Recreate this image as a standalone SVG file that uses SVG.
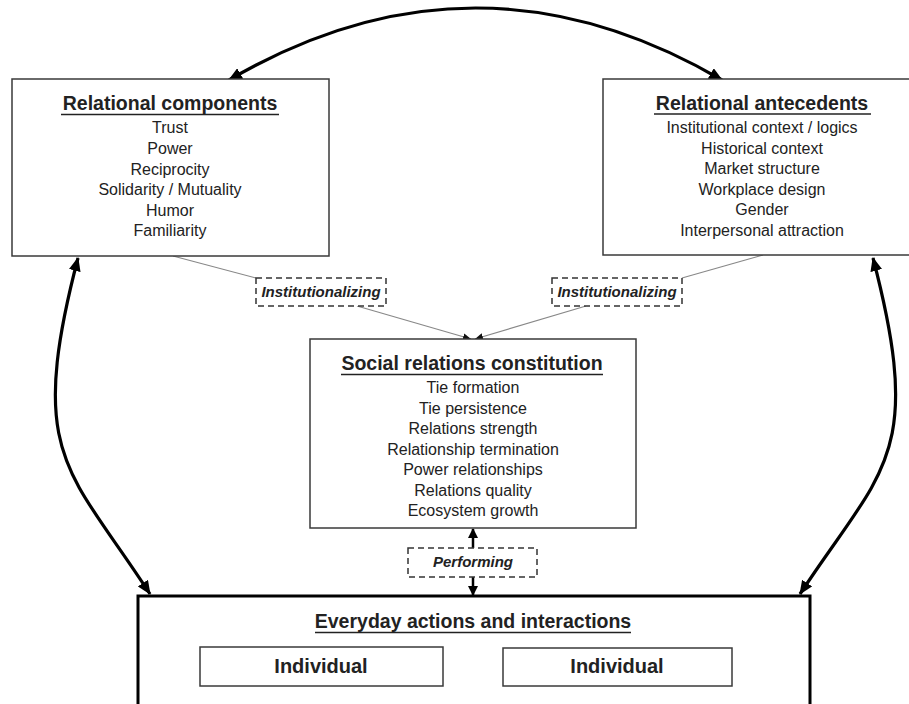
<svg xmlns="http://www.w3.org/2000/svg" width="909" height="704" viewBox="0 0 909 704">
<style>
text{font-family:"Liberation Sans",Arial,sans-serif;fill:#222;text-anchor:middle}
.t{font-size:19.5px;font-weight:bold}
.i{font-size:16px}
.lab{font-size:15px;font-weight:bold;font-style:italic}
.ind{font-size:20px;font-weight:bold}
.box{fill:#fff;stroke:#3a3a3a;stroke-width:1.5}
.dash{fill:#fff;stroke:#333;stroke-width:1.5;stroke-dasharray:6 4}
.ul{stroke:#222;stroke-width:1.3}
.big{fill:none;stroke:#000;stroke-width:3.2;marker-start:url(#ah);marker-end:url(#ah)}
.thin{fill:none;stroke:#888;stroke-width:1.2}
</style>
<defs>
<marker id="ah" markerUnits="userSpaceOnUse" markerWidth="14" markerHeight="12" refX="13" refY="6" orient="auto-start-reverse"><path d="M0,0 L14,6 L0,12 z" fill="#000"/></marker>
<marker id="sa" markerUnits="userSpaceOnUse" markerWidth="8" markerHeight="7" refX="8" refY="3.5" orient="auto-start-reverse"><path d="M0,0 L8,3.5 L0,7 z" fill="#111"/></marker>
<marker id="ma" markerUnits="userSpaceOnUse" markerWidth="10" markerHeight="10" refX="9" refY="5" orient="auto"><path d="M0,0 L10,5 L0,10 z" fill="#000"/></marker>
</defs>

<g id="connectors">
<path class="big" d="M229,80 Q475.5,-64 722,80"/>
<path class="big" d="M78,258 C26,457 69,469 150,594"/>
<path class="big" d="M873,258 C925,457 882,469 800,594"/>
<line class="thin" x1="173" y1="256" x2="256" y2="278"/>
<line class="thin" x1="763" y1="255" x2="682" y2="278"/>
<line class="thin" x1="357" y1="306" x2="471" y2="339" marker-end="url(#sa)"/>
<line class="thin" x1="586" y1="306" x2="475" y2="339" marker-end="url(#sa)"/>
<line x1="473" y1="548" x2="473" y2="529" stroke="#000" stroke-width="2.5" marker-end="url(#ma)"/>
<line x1="473" y1="577" x2="473" y2="595" stroke="#000" stroke-width="2.5" marker-end="url(#ma)"/>
<line class="thin" x1="444" y1="667" x2="502" y2="667" marker-start="url(#sa)" marker-end="url(#sa)"/>
</g>

<g id="relational-components">
<rect class="box" x="12" y="79" width="317" height="177"/>
<text class="t" x="170" y="110">Relational components</text>
<line class="ul" x1="61" y1="114.5" x2="279" y2="114.5"/>
<text class="i" x="170" y="133">Trust</text>
<text class="i" x="170" y="154">Power</text>
<text class="i" x="170" y="174.5">Reciprocity</text>
<text class="i" x="170" y="195">Solidarity / Mutuality</text>
<text class="i" x="170" y="215.5">Humor</text>
<text class="i" x="170" y="236">Familiarity</text>
</g>

<g id="relational-antecedents">
<rect class="box" x="603" y="79" width="318" height="176"/>
<text class="t" x="762" y="110">Relational antecedents</text>
<line class="ul" x1="654" y1="114" x2="871" y2="114"/>
<text class="i" x="762" y="133">Institutional context / logics</text>
<text class="i" x="762" y="153.5">Historical context</text>
<text class="i" x="762" y="174">Market structure</text>
<text class="i" x="762" y="194.5">Workplace design</text>
<text class="i" x="762" y="215">Gender</text>
<text class="i" x="762" y="235.5">Interpersonal attraction</text>
</g>

<g id="institutionalizing-left">
<rect class="dash" x="256" y="278" width="130" height="28"/>
<text class="lab" x="321" y="297">Institutionalizing</text>
</g>

<g id="institutionalizing-right">
<rect class="dash" x="552" y="278" width="130" height="28"/>
<text class="lab" x="617" y="297">Institutionalizing</text>
</g>

<g id="social-relations-constitution">
<rect class="box" x="310" y="339" width="326" height="189"/>
<text class="t" x="472" y="370">Social relations constitution</text>
<line class="ul" x1="341" y1="374.5" x2="603" y2="374.5"/>
<text class="i" x="473" y="393">Tie formation</text>
<text class="i" x="473" y="413.5">Tie persistence</text>
<text class="i" x="473" y="434">Relations strength</text>
<text class="i" x="473" y="454.5">Relationship termination</text>
<text class="i" x="473" y="475">Power relationships</text>
<text class="i" x="473" y="495.5">Relations quality</text>
<text class="i" x="473" y="516">Ecosystem growth</text>
</g>

<g id="performing">
<rect class="dash" x="408" y="548" width="129" height="29"/>
<text class="lab" x="473" y="567">Performing</text>
</g>

<g id="everyday-actions">
<rect x="138" y="596" width="672" height="120" fill="#fff" stroke="#000" stroke-width="3"/>
<text class="t" x="473" y="628">Everyday actions and interactions</text>
<line class="ul" x1="315" y1="632.5" x2="631" y2="632.5"/>
</g>

<g id="individual-left">
<rect class="box" x="200" y="647" width="243" height="39"/>
<text class="ind" x="321" y="673">Individual</text>
</g>

<g id="individual-right">
<rect class="box" x="503" y="648" width="229" height="38"/>
<text class="ind" x="617" y="673">Individual</text>
</g>
</svg>
